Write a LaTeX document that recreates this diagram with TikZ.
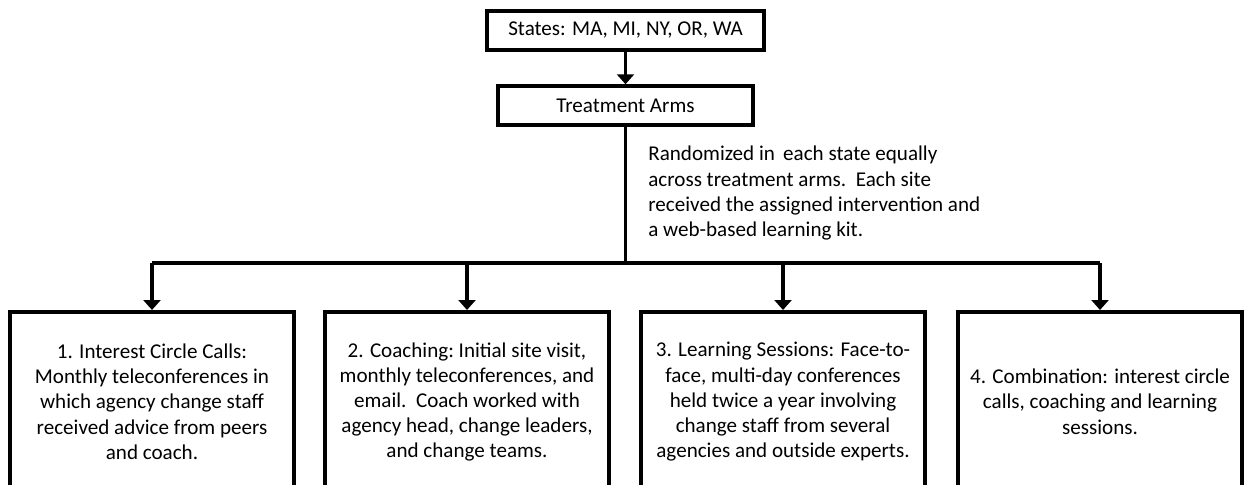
\documentclass[tikz,border=0pt]{standalone}
\usepackage{fontspec}
\setmainfont{Carlito}
\usepackage{xcolor}
\usetikzlibrary{arrows.meta}
\definecolor{FlowInk}{HTML}{000000}

\begin{document}
\begin{tikzpicture}[x=0.02cm,y=-0.02cm,
  flowbox/.style={draw=FlowInk,line width=2pt,fill=white,align=center,inner sep=0pt,
    font=\fontsize{12pt}{14.3pt}\selectfont},
  armbox/.style={flowbox,anchor=north,minimum width=5.68cm,minimum height=3.6cm},
  flowarrow/.style={draw=FlowInk,line width=2pt,-{Triangle[width=0.34cm,length=0.2cm]}}]
\path[use as bounding box] (0,0) rectangle (1247,484);
\clip (0,0) rectangle (1247,484);
\fill[white] (0,0) rectangle (1247,484);
\node[flowbox,minimum width=5.54cm,minimum height=0.78cm] (states) at (625.5,30.5) {States: MA, MI, NY, OR, WA};
\node[flowbox,minimum width=5.10cm,minimum height=0.78cm] (arms) at (625.5,105.5) {Treatment Arms};
\draw[flowarrow] (states) -- (arms);
\node[anchor=north west,align=left,inner sep=0pt,font=\fontsize{12pt}{14.4pt}\selectfont] (note) at (648,146)
  {Randomized in\, each state equally\\across treatment arms.\ \ Each site\\received the assigned intervention and\\a web-based learning kit.};
\node[armbox] (arm1) at (152,310) {1. Interest Circle Calls:\\Monthly teleconferences in\\which agency change staff\\received advice from peers\\and coach.};
\node[armbox] (arm2) at (467,310) {2. Coaching:\ Initial site visit,\\monthly teleconferences, and\\email.\ \ Coach worked with\\agency head, change leaders,\\and change teams.};
\node[armbox] (arm3) at (783,310) {3. Learning Sessions: Face-to-\\face, multi-day conferences\\held twice a year involving\\change staff from\ several\\agencies and outside experts.};
\node[armbox] (arm4) at (1100,310) {4. Combination: interest circle\\calls, coaching and learning\\sessions.};
\coordinate (hub) at (arms.south |- 0,263);
\coordinate (j1) at (arm1.north |- hub);
\coordinate (j2) at (arm2.north |- hub);
\coordinate (j3) at (arm3.north |- hub);
\coordinate (j4) at (arm4.north |- hub);
\draw[draw=FlowInk,line width=2pt] (arms.south) -- (hub);
\draw[draw=FlowInk,line width=2pt] (j1) -- (j4);
\foreach \k in {1,...,4}
  \draw[flowarrow] (j\k) -- (arm\k.north);
\end{tikzpicture}
\end{document}
